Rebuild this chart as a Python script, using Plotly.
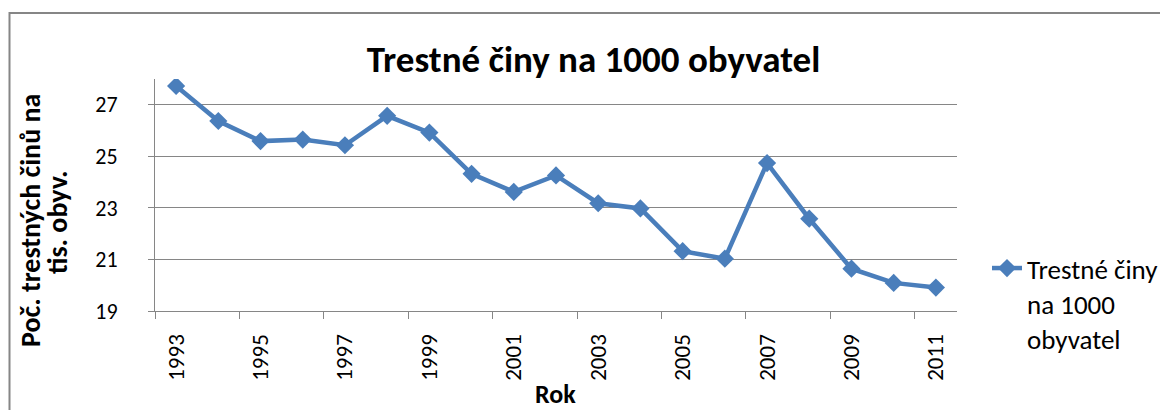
import plotly.graph_objects as go

years = list(range(1993, 2012))
values = [27.73, 26.37, 25.59, 25.65, 25.43, 26.57, 25.92, 24.32, 23.62,
          24.26, 23.18, 22.98, 21.32, 21.03, 24.74, 22.58, 20.64, 20.09, 19.91]
series_name = "Trestné činy<br>na 1000<br>obyvatel"
title_text = "Trestné činy na 1000 obyvatel"
y_title_1 = "Poč. trestných činů na"
y_title_2 = "tis. obyv."
x_title = "Rok"
y_ticks = [19, 21, 23, 25, 27]
x_label_years = list(range(1993, 2012, 2))
x_tick_marks = [y - 0.5 for y in range(1993, 2012, 2)]

FONT = "Carlito, Calibri, Lato, sans-serif"
BLUE = "#4A7EBB"
GRAY = "#868686"

# page body has an 8px margin; work in screen (reference) pixels and convert
OFF = 8
W, H = 1168 - OFF, 410 - OFF
PL, PR, PT, PB = 155, 957, 79, 311          # plot area in screen pixels
L, T = PL - OFF, PT - OFF
R, B = W - (PR - OFF), H - (PB - OFF)
pw, ph = PR - PL, PB - PT

def px(x):
    return (x - PL) / pw

def py(y):
    return (PB - y) / ph

fig = go.Figure()
fig.add_trace(go.Scatter(
    x=years, y=values, mode="lines+markers", name=series_name,
    line=dict(color=BLUE, width=4.5),
    marker=dict(symbol="diamond", size=14, color=BLUE),
    showlegend=True,
))

fig.update_layout(
    width=W, height=H, autosize=False,
    margin=dict(l=L, r=R, t=T, b=B, pad=0, autoexpand=False),
    paper_bgcolor="white", plot_bgcolor="white",
    font=dict(family=FONT, size=22, color="black"),
    title=dict(text="<b>" + title_text + "</b>", x=(593.5 - OFF) / W, xanchor="center",
               y=1 - (59 - OFF) / H, yanchor="middle",
               font=dict(family=FONT, size=37, color="black")),
    xaxis=dict(
        range=[1992.5, 2011.5], tickmode="array", tickvals=x_label_years,
        ticktext=[str(v) for v in x_label_years], tickangle=-90,
        ticks="", showgrid=False, zeroline=False,
        showline=True, linecolor=GRAY, linewidth=1,
        ticklabelstandoff=13, automargin=False,
        tickfont=dict(family=FONT, size=23, color="black"),
        minor=dict(tickmode="array", tickvals=x_tick_marks, ticks="outside",
                   ticklen=7, tickcolor=GRAY, tickwidth=1, showgrid=False),
    ),
    yaxis=dict(
        range=[19, 28], tickmode="array", tickvals=y_ticks,
        ticks="outside", ticklen=6, tickcolor=GRAY, tickwidth=1,
        showgrid=True, gridcolor=GRAY, gridwidth=1, zeroline=False,
        showline=True, linecolor=GRAY, linewidth=1,
        ticklabelstandoff=26, automargin=False,
        tickfont=dict(family=FONT, size=22, color="black"),
    ),
    legend=dict(x=px(987), y=py(244), xanchor="left", yanchor="top",
                valign="top", bgcolor="rgba(0,0,0,0)",
                font=dict(family=FONT, size=27, color="black")),
    shapes=[dict(type="rect", xref="paper", yref="paper",
                 x0=px(9.5), x1=px(1185), y0=py(13), y1=py(440),
                 line=dict(color=GRAY, width=2), fillcolor="rgba(0,0,0,0)",
                 layer="below")],
    annotations=[
        dict(text="<b>" + y_title_1 + "</b>", xref="paper", yref="paper",
             x=px(30), y=py(221), xanchor="center", yanchor="middle",
             textangle=-90, showarrow=False,
             font=dict(family=FONT, size=28, color="black")),
        dict(text="<b>" + y_title_2 + "</b>", xref="paper", yref="paper",
             x=px(57), y=py(222), xanchor="center", yanchor="middle",
             textangle=-90, showarrow=False,
             font=dict(family=FONT, size=28, color="black")),
        dict(text="<b>" + x_title + "</b>", xref="paper", yref="paper",
             x=px(555), y=py(394), xanchor="center", yanchor="middle",
             showarrow=False, font=dict(family=FONT, size=26, color="black")),
    ],
)

fig.write_html("out.html")
